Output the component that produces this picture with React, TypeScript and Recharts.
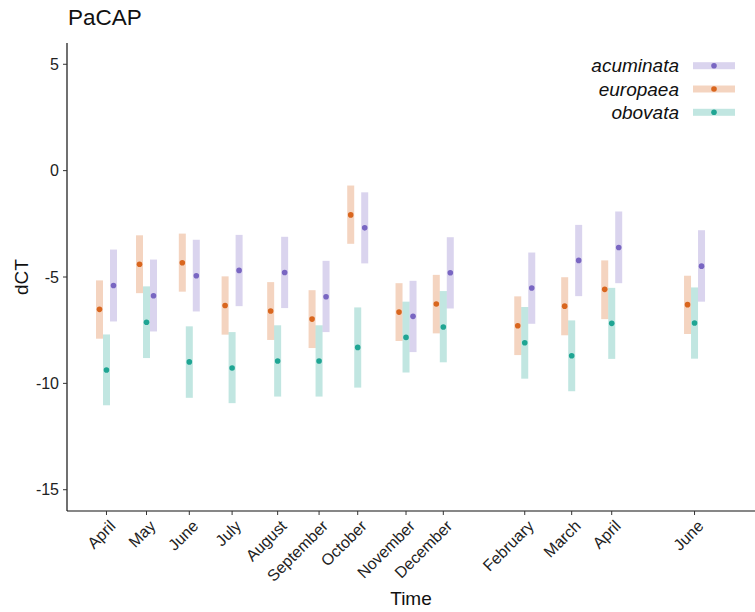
import React from "react";
import { ComposedChart, Scatter, ErrorBar, XAxis, YAxis, Label } from "recharts";

// sampling dates (days after 1 April of the first year) and their month labels
const sampleDay = [15, 44, 75, 106, 139, 169, 197, 232, 259, 318, 352, 381, 441];
const monthLabels = [
  "April", "May", "June", "July", "August", "September", "October",
  "November", "December", "February", "March", "April", "June",
];
const yTicks = [-15, -10, -5, 0, 5];

// dCT mean and interval bounds per species
const europaeaMean = [-6.52, -4.4, -4.33, -6.34, -6.6, -6.98, -2.08, -6.65, -6.27, -7.29, -6.37, -5.58, -6.3];
const europaeaLow = [-7.9, -5.76, -5.69, -7.71, -7.96, -8.34, -3.44, -8.01, -7.65, -8.67, -7.74, -6.98, -7.68];
const europaeaHigh = [-5.16, -3.04, -2.96, -4.97, -5.24, -5.62, -0.7, -5.29, -4.9, -5.91, -5.01, -4.22, -4.94];

const acuminataMean = [-5.4, -5.88, -4.94, -4.69, -4.79, -5.93, -2.69, -6.85, -4.8, -5.52, -4.22, -3.61, -4.49];
const acuminataLow = [-7.09, -7.56, -6.62, -6.37, -6.46, -7.59, -4.36, -8.53, -6.48, -7.2, -5.9, -5.29, -6.16];
const acuminataHigh = [-3.71, -4.18, -3.25, -3.02, -3.11, -4.24, -1.02, -5.18, -3.13, -3.85, -2.55, -1.92, -2.8];

const obovataMean = [-9.37, -7.13, -8.99, -9.28, -8.95, -8.95, -8.31, -7.84, -7.35, -8.09, -8.7, -7.18, -7.16];
const obovataLow = [-11.03, -8.81, -10.68, -10.93, -10.62, -10.62, -10.2, -9.49, -9.01, -9.78, -10.37, -8.85, -8.84];
const obovataHigh = [-7.7, -5.44, -7.32, -7.59, -7.27, -7.27, -6.43, -6.16, -5.66, -6.41, -7.04, -5.51, -5.49];

const FONT = "'Liberation Sans', Arial, sans-serif";
const DODGE = 5.07; // days, like position_dodge

const buildSeries = (mean: number[], low: number[], high: number[], shift: number) =>
  sampleDay.map((d, i) => ({
    x: d + shift,
    y: mean[i],
    err: [mean[i] - low[i], high[i] - mean[i]],
  }));

const series = [
  { name: "europaea", color: "#D9661E", band: "#D9661E47", data: buildSeries(europaeaMean, europaeaLow, europaeaHigh, -DODGE) },
  { name: "obovata", color: "#1FA593", band: "#1FA59347", data: buildSeries(obovataMean, obovataLow, obovataHigh, 0) },
  { name: "acuminata", color: "#7966C2", band: "#7966C247", data: buildSeries(acuminataMean, acuminataLow, acuminataHigh, DODGE) },
];
const legendOrder = ["acuminata", "europaea", "obovata"];

const MonthTick = (props: any) => {
  const { x, y, index } = props;
  return (
    <text
      transform={`translate(${x + 1},${y}) rotate(-45)`}
      textAnchor="end"
      dy="0.8em"
      fontSize={16}
      fontFamily={FONT}
      fill="#222"
    >
      {monthLabels[index]}
    </text>
  );
};

export default function App() {
  return (
    <div style={{ position: "absolute", left: 0, top: 0, width: 755, height: 612, fontFamily: FONT }}>
      <div style={{ position: "absolute", left: 68, top: 5, fontSize: 22.5, color: "#111", lineHeight: "26px" }}>PaCAP</div>

      <ComposedChart width={755} height={612} margin={{ top: 43, right: 0, bottom: 0, left: 0 }}>
        <XAxis
          type="number"
          dataKey="x"
          domain={[-13.6, 484.8]}
          ticks={sampleDay}
          interval={0}
          height={101}
          tick={<MonthTick />}
          tickSize={4}
          tickMargin={3}
          axisLine={{ stroke: "#111", strokeWidth: 1.2 }}
          tickLine={{ stroke: "#333" }}
        >
          <Label value="Time" position="insideBottom" offset={7} style={{ fontSize: 19, fill: "#111", fontFamily: FONT }} />
        </XAxis>
        <YAxis
          type="number"
          domain={[-16, 6]}
          ticks={yTicks}
          width={67}
          tickSize={4}
          tickMargin={4}
          tick={{ fontSize: 16, fill: "#222", fontFamily: FONT }}
          axisLine={{ stroke: "#111", strokeWidth: 1.2 }}
          tickLine={{ stroke: "#333" }}
        >
          <Label
            content={() => (
              <text x={28} y={277} transform="rotate(-90 28 277)" textAnchor="middle" fontSize={19} fill="#111" fontFamily={FONT}>
                dCT
              </text>
            )}
          />
        </YAxis>
        {series.map((s) => (
          <Scatter
            key={s.name}
            name={s.name}
            data={s.data}
            dataKey="y"
            isAnimationActive={false}
            shape={(p: any) => <circle cx={p.cx} cy={p.cy} r={2.8} fill={s.color} />}
          >
            <ErrorBar dataKey="err" direction="y" width={0} strokeWidth={7} stroke={s.band} isAnimationActive={false} />
          </Scatter>
        ))}
      </ComposedChart>

      <svg style={{ position: "absolute", left: 560, top: 50 }} width={195} height={75}>
        {legendOrder.map((name, i) => {
          const s = series.find((t) => t.name === name)!;
          const cy = 15.7 + i * 23.3;
          return (
            <g key={name}>
              <text x={119} y={cy} dy="0.35em" textAnchor="end" fontSize={19} fontStyle="italic" fill="#111" fontFamily={FONT}>
                {name}
              </text>
              <rect x={133} y={cy - 3.5} width={42} height={7} fill={s.band} />
              <circle cx={154} cy={cy} r={2.8} fill={s.color} />
            </g>
          );
        })}
      </svg>
    </div>
  );
}
